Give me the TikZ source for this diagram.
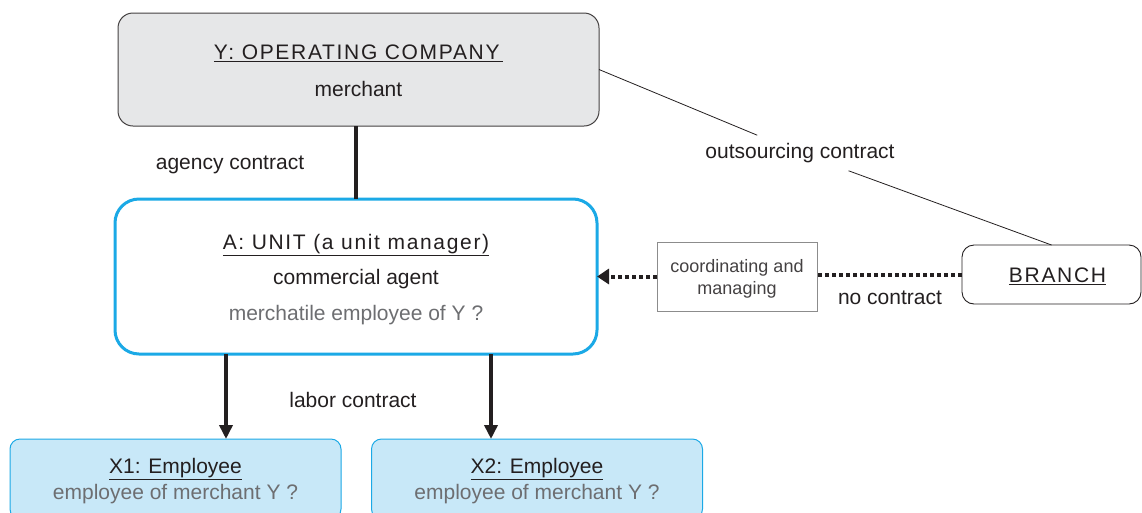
\documentclass[tikz,border=0pt]{standalone}
\usepackage{fontspec}
\setmainfont{Liberation Sans}
\usetikzlibrary{arrows.meta}

\definecolor{ink}{HTML}{231F20}
\definecolor{greytxt}{HTML}{6D6E71}
\definecolor{cyanline}{HTML}{1BA9E6}
\definecolor{paleblue}{HTML}{C8E8F8}
\definecolor{boxgrey}{HTML}{E6E7E8}
\definecolor{framegrey}{HTML}{8C8C8C}

% slightly spaced capitals for the box titles
\newcommand{\spacedcaps}[1]{{\addfontfeature{LetterSpace=8}#1}}
% strut that lowers the first line of a box a little
\newcommand{\topstrut}[1]{\rule{0pt}{#1}}

\tikzset{
  txt/.style={text=ink, inner sep=0pt, outer sep=0pt, align=center},
  company/.style={txt, draw=ink!85, line width=1pt, fill=boxgrey, rounded corners=15pt,
    minimum width=481pt, minimum height=113pt, font=\fontsize{21}{37}\selectfont},
  unit/.style={txt, draw=cyanline, line width=3pt, fill=white, rounded corners=24pt,
    minimum width=482pt, minimum height=155pt, font=\fontsize{21}{35.5}\selectfont},
  employee/.style={txt, draw=cyanline, line width=1pt, fill=paleblue, rounded corners=10pt,
    minimum width=331pt, minimum height=80pt, font=\fontsize{21}{26}\selectfont},
  branchbox/.style={txt, draw=ink, line width=0.9pt, fill=white, rounded corners=12pt,
    minimum width=179pt, minimum height=59pt, font=\fontsize{21}{25}\selectfont},
  notebox/.style={txt, draw=framegrey, line width=1pt, fill=white,
    minimum width=160pt, minimum height=69pt, text=ink!85, font=\fontsize{18}{22}\selectfont},
  tag/.style={txt, font=\fontsize{21}{25}\selectfont},
  contract/.style={draw=ink, line width=4pt},
  labor/.style={contract, -{Triangle[length=14pt,width=13pt]}},
  informal/.style={draw=ink, line width=4pt, dash pattern=on 4pt off 3pt},
  informalarrow/.style={informal, -{Triangle[length=12pt,width=15pt]}},
  thinlink/.style={draw=ink, line width=0.8pt},
}

\begin{document}
\begin{tikzpicture}[x=1pt,y=-1pt]
\useasboundingbox (0,0) rectangle (1142,512);

% parties
\node[company] (Y) at (358.5,69.5)
  {\topstrut{17pt}\underline{\spacedcaps{Y: OPERATING COMPANY\,}}\\merchant};
\node[unit] (A) at (356,276.5)
  {\topstrut{21pt}\underline{\spacedcaps{A: UNIT (a unit manager)}}\\commercial agent\\
   \textcolor{greytxt}{merchatile employee of Y ?}};
\node[employee, anchor=north] (X1) at (175.5,439)
  {\topstrut{19pt}\underline{X1: Employee}\\\textcolor{greytxt}{employee of merchant Y ?}};
\node[employee, anchor=north] (X2) at (537,439)
  {\topstrut{19pt}\underline{X2: Employee}\\\textcolor{greytxt}{employee of merchant Y ?}};
\node[branchbox] (B) at (1051.5,274.5)
  {\topstrut{19pt}\hspace*{12pt}\underline{\spacedcaps{BRANCH}}};
\node[notebox] (C) at (737,276.5) {\topstrut{17pt}coordinating and\\managing};

% contracts
\draw[contract] (A.north) -- (A.north |- Y.south);
\node[tag] (agency) at (230,165) {agency contract};

\draw[labor] (A.south -| 226,0) -- (X1.north -| 226,0);
\draw[labor] (A.south -| 491,0) -- (X2.north -| 491,0);
\node[tag] (labor) at (353,400) {labor contract};

\draw[informal] (B.west) -- (B.west -| C.east);
\draw[informalarrow] (C.west) -- (A.east);
\node[tag] (none) at (890,298) {no contract};

\node[tag, inner sep=8pt] (out) at (800,153) {outsourcing contract};
\draw[thinlink] (Y.east) -- (out);
\draw[thinlink] (out) -- (B.north);
\end{tikzpicture}
\end{document}
